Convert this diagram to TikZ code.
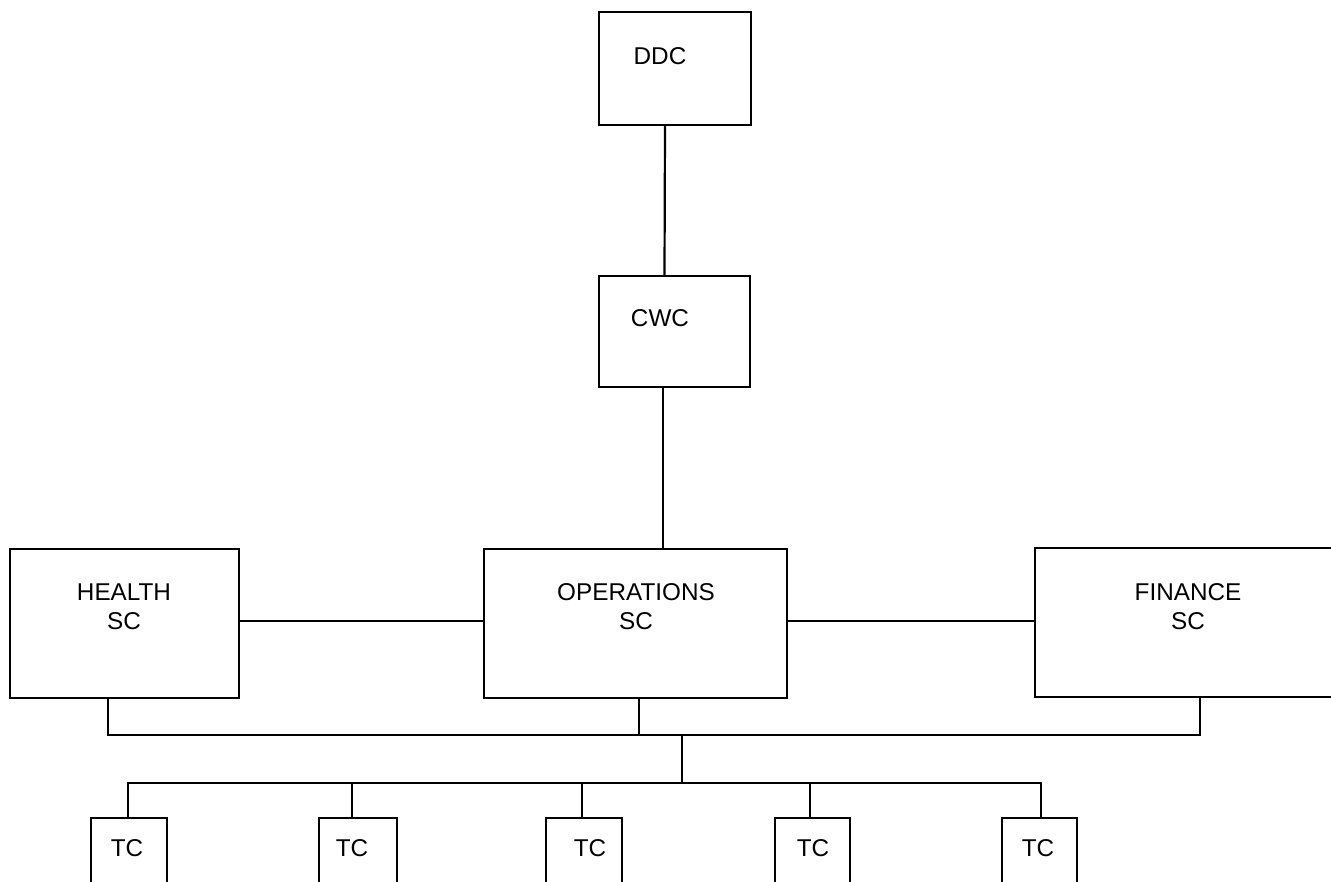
\documentclass[tikz,border=0pt]{standalone}
\usepackage{fontspec}
\setmainfont{Liberation Sans}
\begin{document}
\begin{tikzpicture}[x=1pt,y=-1pt,
  box/.style={draw, line width=2.4pt, inner sep=0pt},
  conn/.style={line width=2.2pt},
  lbl/.style={font=\fontsize{24.3}{29}\selectfont, align=center, inner sep=0pt}]
\useasboundingbox (0,0) rectangle (1331,882);
\clip (0,0) rectangle (1331,882);
% boxes
\node[box, minimum width=152pt, minimum height=113pt] (ddc) at (675,68.5) {};
\node[box, minimum width=151pt, minimum height=111pt] (cwc) at (674.5,331.5) {};
\node[box, minimum width=229pt, minimum height=149pt] (health) at (124.5,623.5) {};
\node[box, minimum width=303pt, minimum height=149pt] (ops) at (635.5,623.5) {};
\node[box, minimum width=325pt, minimum height=149pt] (fin) at (1197.5,622.5) {};
\node[box, minimum width=76pt, minimum height=102pt] (tc1) at (129,869) {};
\node[box, minimum width=78pt, minimum height=102pt] (tc2) at (358,869) {};
\node[box, minimum width=76pt, minimum height=102pt] (tc3) at (584,869) {};
\node[box, minimum width=75pt, minimum height=102pt] (tc4) at (812.5,869) {};
\node[box, minimum width=75pt, minimum height=102pt] (tc5) at (1039.5,869) {};
% labels
\node[lbl] (ddct) at (660,56) {DDC};
\node[lbl] (cwct) at (660,318) {CWC};
\node[lbl] (healtht) at (124,607) {HEALTH\\SC};
\node[lbl] (opst) at (636,607) {OPERATIONS\\SC};
\node[lbl] (fint) at (1188,607) {FINANCE\\SC};
\node[lbl] (tc1t) at (127,848) {TC};
\node[lbl] (tc2t) at (352,848) {TC};
\node[lbl] (tc3t) at (590,848) {TC};
\node[lbl] (tc4t) at (813,848) {TC};
\node[lbl] (tc5t) at (1038,848) {TC};
% connectors
\coordinate (bus) at (682,735);
\coordinate (tcbus) at (682,783);
\draw[conn] ([xshift=-10pt]ddc.south) -- ([xshift=-10pt]cwc.north);
\draw[conn] ([xshift=-11.5pt]cwc.south) -- ([xshift=-11.5pt]cwc.south |- ops.north);
\draw[conn] ([yshift=2.5pt]health.east) -- ([yshift=2.5pt]health.east -| ops.west);
\draw[conn] ([yshift=2.5pt]ops.east) -- ([yshift=2.5pt]ops.east -| fin.west);
\draw[conn] ([xshift=-16.5pt]health.south) |- (bus) -| ([xshift=2.5pt]fin.south);
\draw[conn] ([xshift=3.5pt]ops.south) -- ([xshift=3.5pt]ops.south |- bus);
\draw[conn] (bus) -- (tcbus);
\draw[conn] ([xshift=-1pt]tc1.north) |- (tcbus) -| ([xshift=1.5pt]tc5.north);
\draw[conn] ([xshift=-6pt]tc2.north) -- ([xshift=-6pt]tc2.north |- tcbus);
\draw[conn] ([xshift=-2pt]tc3.north) -- ([xshift=-2pt]tc3.north |- tcbus);
\draw[conn] ([xshift=-2.5pt]tc4.north) -- ([xshift=-2.5pt]tc4.north |- tcbus);
\end{tikzpicture}
\end{document}
